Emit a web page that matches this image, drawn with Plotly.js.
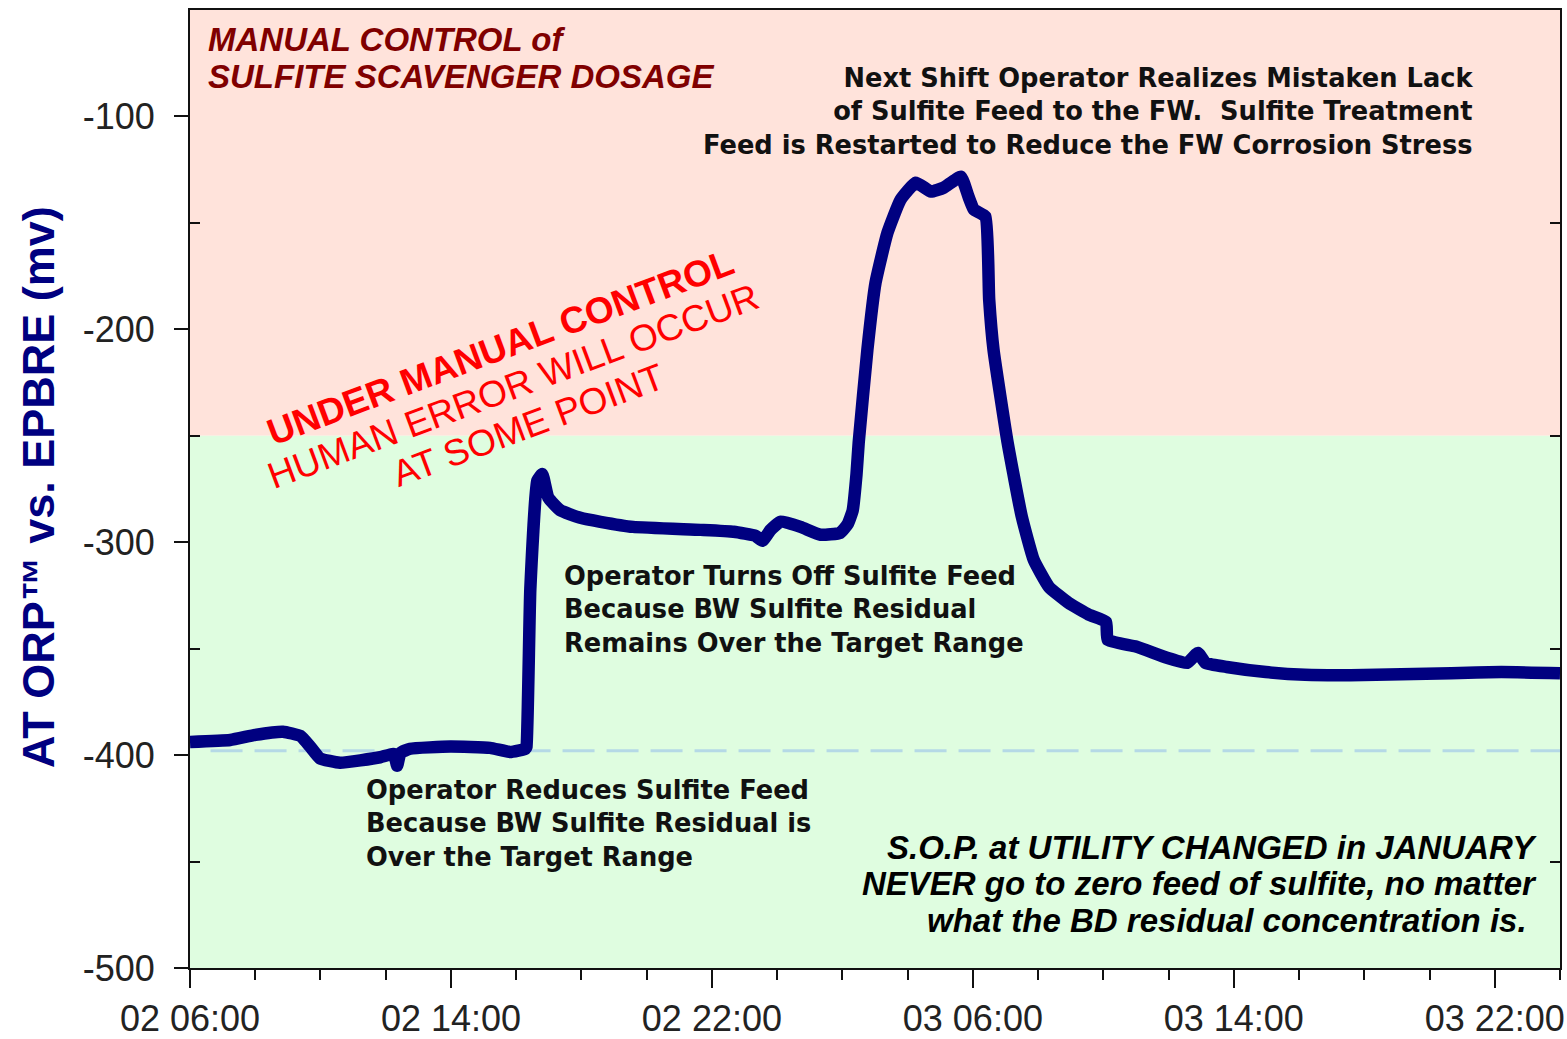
<!DOCTYPE html>
<html>
<head>
<meta charset="utf-8">
<script src="https://cdn.plot.ly/plotly-3.0.1.min.js"></script>
<style>
  html, body { margin: 0; padding: 0; background: #fff; }
  #plot { width: 1567px; height: 1039px; }
</style>
</head>
<body>
<div id="plot"></div>
<script>
// ORP readings (mv vs. EPBRE)
const times = [
    '2010-01-02 06:00', '2010-01-02 07:14', '2010-01-02 08:00', '2010-01-02 08:51',
    '2010-01-02 09:23', '2010-01-02 09:41', '2010-01-02 09:59', '2010-01-02 10:36',
    '2010-01-02 11:50', '2010-01-02 12:15', '2010-01-02 12:21', '2010-01-02 12:27',
    '2010-01-02 12:45', '2010-01-02 13:59', '2010-01-02 15:12', '2010-01-02 15:49',
    '2010-01-02 16:17', '2010-01-02 16:19', '2010-01-02 16:26', '2010-01-02 16:39',
    '2010-01-02 16:48', '2010-01-02 16:59', '2010-01-02 17:21', '2010-01-02 17:58',
    '2010-01-02 18:35', '2010-01-02 19:35', '2010-01-02 21:39', '2010-01-02 22:40',
    '2010-01-02 23:20', '2010-01-02 23:33', '2010-01-02 23:48', '2010-01-03 00:06',
    '2010-01-03 00:43', '2010-01-03 01:20', '2010-01-03 01:56', '2010-01-03 02:10',
    '2010-01-03 02:19', '2010-01-03 02:26', '2010-01-03 02:30', '2010-01-03 02:46',
    '2010-01-03 03:01', '2010-01-03 03:23', '2010-01-03 03:47', '2010-01-03 04:15',
    '2010-01-03 04:43', '2010-01-03 05:06', '2010-01-03 05:38', '2010-01-03 05:52',
    '2010-01-03 06:02', '2010-01-03 06:23', '2010-01-03 06:30', '2010-01-03 06:38',
    '2010-01-03 07:04', '2010-01-03 07:30', '2010-01-03 07:52', '2010-01-03 08:20',
    '2010-01-03 08:56', '2010-01-03 09:33', '2010-01-03 10:05', '2010-01-03 10:08',
    '2010-01-03 11:00', '2010-01-03 11:57', '2010-01-03 12:34', '2010-01-03 12:54',
    '2010-01-03 13:08', '2010-01-03 13:47', '2010-01-03 14:59', '2010-01-03 16:11',
    '2010-01-03 17:35', '2010-01-03 19:08', '2010-01-03 20:40', '2010-01-03 22:12',
    '2010-01-04 00:00'
];
const orp = [
    -393.8, -392.9, -390.5, -389.0,
    -391.0, -396.0, -401.5, -403.6,
    -401.0, -399.5, -405.0, -399.0,
    -397.0, -396.0, -396.6, -398.5,
    -397.0, -396.0, -322.0, -271.0,
    -268.0, -279.0, -285.0, -288.5,
    -290.4, -292.8, -294.2, -295.1,
    -297.0, -299.3, -294.2, -290.4,
    -292.8, -296.5, -295.6, -291.4,
    -285.0, -268.0, -253.3, -209.6,
    -178.1, -154.6, -139.1, -131.1,
    -135.3, -133.5, -128.3, -137.7,
    -143.8, -147.0, -186.0, -209.6,
    -253.3, -288.0, -308.3, -321.0,
    -328.5, -334.0, -337.4, -345.9,
    -349.0, -354.3, -356.7, -352.0,
    -356.7, -358.6, -361.0, -362.3,
    -362.5, -362.0, -361.5, -361.0,
    -361.5
];

// zones and reference level
const manualZone = [-250, -50];
const targetZone = [-500, -250];
const targetLevel = -398;

const xStart = '2010-01-02 06:00';
const xEnd = '2010-01-04 00:00';
const yTicks = [-500, -400, -300, -200, -100];
const yTickText = ['-500', '-400', '-300', '-200', '-100'];
const yMinorTicks = [-450, -350, -250, -150];

const HOUR = 3600000;

const orpTrace = {
    x: times,
    y: orp,
    type: 'scatter',
    mode: 'lines',
    line: { color: '#000080', width: 12.5, shape: 'spline', smoothing: 0.4 },
    hoverinfo: 'skip',
    showlegend: false
};

// blank trace only to carry the right-hand inside ticks
const rightTicks = {
    x: [xStart],
    y: [null],
    yaxis: 'y2',
    type: 'scatter',
    mode: 'markers',
    showlegend: false,
    hoverinfo: 'skip'
};

const blockFont = { family: 'DejaVu Sans', size: 25.7, color: '#111', weight: 'bold' };
const redFont = { family: 'Liberation Sans', size: 37, color: '#ff0000' };
const titleFont = { family: 'Liberation Sans', size: 33, color: '#800000', weight: 'bold', style: 'italic' };
const sopFont = { family: 'Liberation Sans', size: 33, color: '#000', weight: 'bold', style: 'italic' };

function line(text, x, y, xanchor, font) {
    return {
        text: text, xref: 'paper', yref: 'paper', x: x, y: y,
        xanchor: xanchor, yanchor: 'middle', showarrow: false, font: font
    };
}

const layout = {
    width: 1567,
    height: 1039,
    margin: { l: 190, r: 7, t: 10, b: 71 },
    paper_bgcolor: '#ffffff',
    plot_bgcolor: '#ffffff',
    showlegend: false,
    xaxis: {
        type: 'date',
        range: [xStart, xEnd],
        tick0: xStart,
        dtick: 8 * HOUR,
        tickformat: '%d %H:%M',
        ticks: 'outside',
        ticklen: 18,
        tickwidth: 2,
        tickcolor: '#111',
        minor: { ticks: 'outside', dtick: 2 * HOUR, ticklen: 10, tickwidth: 2, tickcolor: '#111' },
        showline: true,
        linecolor: '#111',
        linewidth: 2,
        mirror: true,
        showgrid: false,
        zeroline: false,
        tickfont: { family: 'Liberation Sans', size: 36, color: '#222' }
    },
    yaxis: {
        range: [-500, -50],
        tickvals: yTicks,
        ticktext: yTickText,
        ticks: 'outside',
        ticklen: 14,
        tickwidth: 2,
        tickcolor: '#111',
        minor: { ticks: 'inside', tickvals: yMinorTicks, ticklen: 10, tickwidth: 2, tickcolor: '#111' },
        showline: true,
        linecolor: '#111',
        linewidth: 2,
        mirror: true,
        showgrid: false,
        zeroline: false,
        ticklabelstandoff: 12,
        tickfont: { family: 'Liberation Sans', size: 36, color: '#222' }
    },
    yaxis2: {
        overlaying: 'y',
        side: 'right',
        range: [-500, -50],
        tickvals: yMinorTicks,
        ticks: 'inside',
        ticklen: 10,
        tickwidth: 2,
        tickcolor: '#111',
        showticklabels: false,
        showline: false,
        showgrid: false,
        zeroline: false
    },
    shapes: [
        {
            type: 'rect', xref: 'paper', yref: 'y', layer: 'below',
            x0: 0, x1: 1, y0: manualZone[0], y1: manualZone[1],
            fillcolor: '#ffe3db', line: { width: 0 }
        },
        {
            type: 'rect', xref: 'paper', yref: 'y', layer: 'below',
            x0: 0, x1: 1, y0: targetZone[0], y1: targetZone[1],
            fillcolor: '#dffde0', line: { width: 0 }
        },
        {
            type: 'line', xref: 'paper', yref: 'y', layer: 'below',
            x0: 0.015, x1: 1, y0: targetLevel, y1: targetLevel,
            line: { color: '#b5d9e6', width: 3, dash: '32px,12px' }
        }
    ],
    annotations: [
        {
            text: 'AT ORP™ vs. EPBRE (mv)',
            xref: 'paper', yref: 'paper', x: -0.111, y: 0.502,
            xanchor: 'center', yanchor: 'middle', textangle: -90, showarrow: false,
            font: { family: 'Liberation Sans', size: 45, color: '#000080', weight: 'bold' }
        },
        line('MANUAL CONTROL of', 0.0118, 0.9697, 'left', titleFont),
        line('SULFITE SCAVENGER DOSAGE', 0.0118, 0.9311, 'left', titleFont),
        {
            text: 'Next Shift Operator Realizes Mistaken Lack<br>of Sulfite Feed to the FW.  Sulfite Treatment<br>Feed is Restarted to Reduce the FW Corrosion Stress',
            xref: 'paper', yref: 'paper', x: 0.938, y: 0.947,
            xanchor: 'right', yanchor: 'top', align: 'right', showarrow: false,
            font: blockFont
        },
        {
            text: 'Operator Turns Off Sulfite Feed<br>Because BW Sulfite Residual<br>Remains Over the Target Range',
            xref: 'paper', yref: 'paper', x: 0.2717, y: 0.427,
            xanchor: 'left', yanchor: 'top', align: 'left', showarrow: false,
            font: blockFont
        },
        {
            text: 'Operator Reduces Sulfite Feed<br>Because BW Sulfite Residual is<br>Over the Target Range',
            xref: 'paper', yref: 'paper', x: 0.1272, y: 0.2035,
            xanchor: 'left', yanchor: 'top', align: 'left', showarrow: false,
            font: blockFont
        },
        line('S.O.P. at UTILITY CHANGED in JANUARY', 0.985, 0.1253, 'right', sopFont),
        line('NEVER go to zero feed of sulfite, no matter', 0.985, 0.0877, 'right', sopFont),
        line('what the BD residual concentration is.', 0.9775, 0.0491, 'right', sopFont),
        {
            text: 'UNDER MANUAL CONTROL',
            xref: 'paper', yref: 'paper', x: 0.2263, y: 0.6482,
            xanchor: 'center', yanchor: 'middle', textangle: -20.5, showarrow: false,
            font: Object.assign({}, redFont, { weight: 'bold' })
        },
        {
            text: 'HUMAN ERROR WILL OCCUR',
            xref: 'paper', yref: 'paper', x: 0.2358, y: 0.6065,
            xanchor: 'center', yanchor: 'middle', textangle: -20.5, showarrow: false,
            font: redFont
        },
        {
            text: 'AT SOME POINT',
            xref: 'paper', yref: 'paper', x: 0.2467, y: 0.5668,
            xanchor: 'center', yanchor: 'middle', textangle: -20.5, showarrow: false,
            font: redFont
        }
    ]
};

Plotly.newPlot('plot', [orpTrace, rightTicks], layout, { staticPlot: true });
</script>
</body>
</html>
